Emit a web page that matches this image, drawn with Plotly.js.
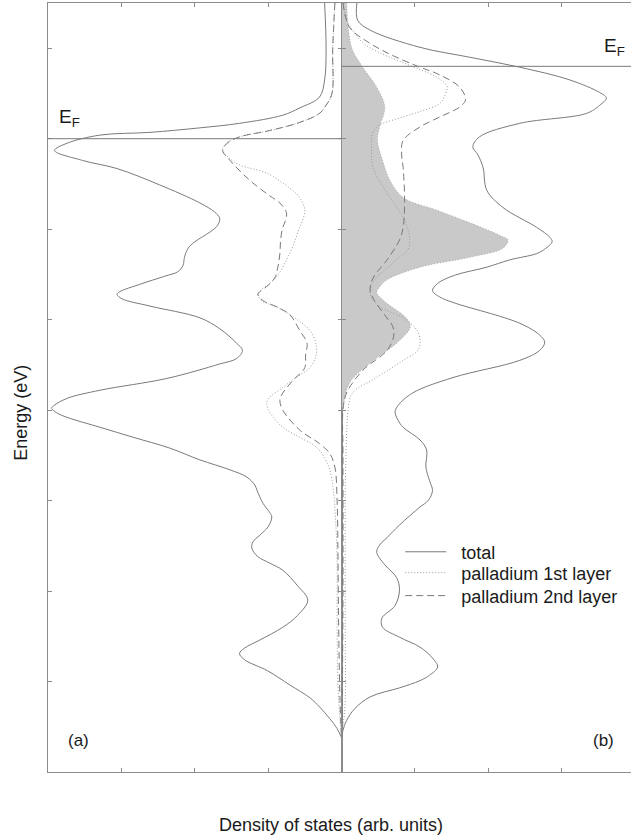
<!DOCTYPE html>
<html>
<head>
<meta charset="utf-8">
<script src="https://cdn.plot.ly/plotly-3.0.1.min.js"></script>
<style>
html,body{margin:0;padding:0;overflow:hidden;background:#fff;}
#chart{width:640px;height:840px;}
</style>
</head>
<body>
<div id="chart"></div>
<script>
// Energies relative to E_F of panel (a); ticks one unit apart
const EF_a = 0.0;
const EF_b = 0.80;

// Panel (a) total DOS
const totA_E = [1.50,0.98,0.65,0.46,0.34,0.26,0.17,0.12,0.07,0.04,-0.05,-0.13,-0.24,-0.33,-0.51,-0.71,-0.81,-0.88,-0.96,-1.03,-1.14,-1.21,-1.31,-1.40,-1.47,-1.52,-1.61,-1.69,-1.72,-1.77,-1.85,-1.98,-2.10,-2.26,-2.34,-2.43,-2.49,-2.65,-2.78,-2.87,-2.95,-2.98,-3.03,-3.08,-3.19,-3.30,-3.42,-3.55,-3.66,-3.74,-3.83,-3.89,-4.03,-4.13,-4.18,-4.29,-4.38,-4.46,-4.53,-4.62,-4.69,-4.77,-4.94,-5.10,-5.27,-5.40,-5.54,-5.63,-5.69,-5.76,-5.88,-6.04,-6.18,-6.28,-6.41,-6.52,-6.62];
const totA_D = [0.23,0.21,0.23,0.30,0.57,0.80,1.39,1.93,2.61,3.29,3.74,3.91,3.53,3.06,2.48,1.93,1.73,1.66,1.69,1.79,2.00,2.09,2.14,2.16,2.23,2.41,2.75,3.02,3.06,2.99,2.61,1.93,1.66,1.43,1.35,1.43,1.66,2.38,3.29,3.74,3.92,3.95,3.88,3.74,3.29,2.84,2.34,1.93,1.52,1.29,1.18,1.15,1.07,0.98,0.95,1.00,1.11,1.21,1.22,1.14,0.98,0.80,0.60,0.46,0.60,0.80,1.11,1.32,1.39,1.32,1.01,0.70,0.43,0.30,0.16,0.06,0.00];

// Panel (a) palladium 1st layer
const pd1A_E = [1.50,0.98,0.50,0.37,0.28,0.18,0.09,0.02,-0.05,-0.13,-0.20,-0.29,-0.38,-0.55,-0.65,-0.79,-0.90,-0.98,-1.18,-1.34,-1.51,-1.60,-1.68,-1.72,-1.79,-1.86,-1.98,-2.12,-2.30,-2.43,-2.53,-2.65,-2.75,-2.86,-2.92,-3.02,-3.19,-3.30,-3.41,-3.53,-3.66,-3.89,-4.22,-4.66,-5.32,-5.99,-6.43,-6.62];
const pd1A_D = [0.09,0.12,0.13,0.21,0.30,0.57,0.98,1.39,1.56,1.62,1.55,1.39,1.02,0.70,0.57,0.50,0.53,0.57,0.66,0.75,0.87,0.98,1.11,1.14,1.09,0.88,0.64,0.43,0.34,0.36,0.43,0.64,0.80,0.98,1.02,0.98,0.80,0.57,0.34,0.23,0.16,0.11,0.08,0.06,0.06,0.05,0.02,0.00];

// Panel (a) palladium 2nd layer
const pd2A_E = [1.50,0.98,0.50,0.37,0.28,0.18,0.09,0.02,-0.05,-0.13,-0.24,-0.46,-0.63,-0.71,-0.82,-0.92,-0.98,-1.12,-1.27,-1.43,-1.54,-1.62,-1.69,-1.72,-1.79,-1.86,-1.95,-2.12,-2.26,-2.39,-2.53,-2.67,-2.81,-2.89,-3.00,-3.22,-3.37,-3.48,-3.63,-4.00,-4.44,-5.32,-6.21,-6.62];
const pd2A_D = [0.09,0.12,0.13,0.21,0.30,0.57,0.98,1.39,1.56,1.62,1.52,1.25,0.98,0.84,0.75,0.77,0.80,0.83,0.84,0.87,0.91,1.00,1.11,1.14,1.07,0.88,0.70,0.57,0.47,0.49,0.50,0.66,0.80,0.84,0.80,0.57,0.30,0.16,0.09,0.06,0.05,0.04,0.02,0.00];

// Panel (b) total DOS
const totB_E = [1.50,1.31,1.20,1.01,0.90,0.79,0.65,0.51,0.45,0.37,0.28,0.17,0.02,-0.09,-0.18,-0.32,-0.57,-0.76,-0.98,-1.09,-1.14,-1.22,-1.27,-1.34,-1.42,-1.51,-1.60,-1.68,-1.75,-1.81,-2.04,-2.17,-2.25,-2.34,-2.45,-2.64,-2.81,-2.95,-3.02,-3.11,-3.19,-3.33,-3.44,-3.63,-3.78,-3.89,-4.00,-4.07,-4.27,-4.41,-4.49,-4.57,-4.71,-4.85,-4.99,-5.16,-5.30,-5.40,-5.51,-5.62,-5.74,-5.84,-5.93,-5.99,-6.07,-6.17,-6.30,-6.43,-6.54,-6.62];
const totB_D = [0.21,0.22,0.39,1.07,1.75,2.43,3.11,3.52,3.61,3.52,3.34,2.43,1.88,1.79,1.86,1.93,1.98,2.20,2.66,2.84,2.87,2.77,2.66,2.29,1.98,1.54,1.31,1.24,1.34,1.52,2.43,2.70,2.77,2.70,2.43,1.52,0.97,0.77,0.73,0.77,0.84,1.07,1.16,1.15,1.20,1.24,1.18,1.07,0.79,0.62,0.52,0.48,0.59,0.75,0.79,0.73,0.55,0.56,0.79,1.07,1.24,1.31,1.20,1.07,0.79,0.39,0.18,0.07,0.02,0.00];

// Panel (b) palladium 1st layer
const pd1B_E = [1.50,1.31,1.17,1.06,0.95,0.84,0.68,0.61,0.57,0.48,0.39,0.30,0.24,0.13,0.02,-0.05,-0.32,-0.60,-0.87,-1.12,-1.23,-1.31,-1.43,-1.56,-1.68,-1.76,-1.86,-1.98,-2.12,-2.23,-2.34,-2.45,-2.64,-2.81,-3.00,-3.26,-3.55,-3.92,-4.44,-5.32,-6.21,-6.43,-6.62];
const pd1B_D = [0.02,0.07,0.18,0.29,0.52,0.84,1.30,1.41,1.44,1.41,1.34,1.07,0.84,0.48,0.41,0.41,0.43,0.62,0.84,0.93,0.90,0.79,0.62,0.45,0.39,0.41,0.52,0.84,1.03,1.07,1.04,0.84,0.48,0.15,0.09,0.07,0.06,0.05,0.05,0.05,0.05,0.03,0.00];

// Panel (b) palladium 2nd layer
const pd2B_E = [1.50,1.23,1.09,0.95,0.79,0.72,0.57,0.43,0.35,0.24,0.13,-0.02,-0.18,-0.32,-0.68,-0.98,-1.12,-1.34,-1.54,-1.68,-1.79,-1.95,-2.08,-2.19,-2.34,-2.56,-2.81,-3.00,-3.44,-5.10,-6.21,-6.62];
const pd2B_D = [0.02,0.11,0.32,0.62,1.07,1.30,1.61,1.69,1.61,1.34,1.07,0.84,0.82,0.84,0.86,0.84,0.79,0.62,0.43,0.39,0.45,0.59,0.70,0.71,0.62,0.29,0.07,0.02,0.02,0.02,0.01,0.00];

// Panel (b) shaded partial DOS
const shadeB_E = [1.50,1.17,0.98,0.79,0.57,0.35,0.13,-0.02,-0.24,-0.46,-0.65,-0.79,-0.93,-1.07,-1.12,-1.21,-1.31,-1.42,-1.56,-1.64,-1.70,-1.82,-1.95,-2.04,-2.10,-2.26,-2.48,-2.70,-2.97,-3.03];
const shadeB_D = [0.07,0.10,0.15,0.29,0.48,0.59,0.52,0.49,0.56,0.66,0.84,1.30,1.75,2.16,2.27,2.20,1.75,1.07,0.62,0.52,0.48,0.62,0.84,0.93,0.93,0.75,0.39,0.11,0.02,0.00];

const seriesNames = ["total", "palladium 1st layer", "palladium 2nd layer"];
const xTicks = [1, 2, 3];
const yTicks = [-6, -5, -4, -3, -2, -1, 0, 1];

const cTot = "#7a7a7a", cP1 = "#9a9a9a", cP2 = "#787878", axC = "#8c8c8c";
const dotDash = "1px,2px", dashDash = "7px,4px";
const gap = "\u00a0\u00a0";

const traces = [
  {x: shadeB_D, y: shadeB_E, xaxis: "x2", yaxis: "y2", mode: "lines", fill: "tozerox",
   fillcolor: "#c9c9c9", line: {color: "#a0a0a0", width: 0.8, shape: "spline", dash: dotDash}, showlegend: false, hoverinfo: "skip"},
  {x: totA_D, y: totA_E, xaxis: "x", yaxis: "y", mode: "lines", line: {color: cTot, width: 1, shape: "spline"}, showlegend: false},
  {x: pd1A_D, y: pd1A_E, xaxis: "x", yaxis: "y", mode: "lines", line: {color: cP1, width: 1, shape: "spline", dash: dotDash}, showlegend: false},
  {x: pd2A_D, y: pd2A_E, xaxis: "x", yaxis: "y", mode: "lines", line: {color: cP2, width: 1, shape: "spline", dash: dashDash}, showlegend: false},
  {x: totB_D, y: totB_E, xaxis: "x2", yaxis: "y2", mode: "lines", name: gap + seriesNames[0], legend: "legend", line: {color: cTot, width: 1, shape: "spline"}},
  {x: pd1B_D, y: pd1B_E, xaxis: "x2", yaxis: "y2", mode: "lines", name: gap + seriesNames[1], legend: "legend2", line: {color: cP1, width: 1, shape: "spline", dash: dotDash}},
  {x: pd2B_D, y: pd2B_E, xaxis: "x2", yaxis: "y2", mode: "lines", name: gap + seriesNames[2], legend: "legend3", line: {color: cP2, width: 1, shape: "spline", dash: dashDash}}
];

const axBase = {showgrid: false, zeroline: false, showline: true, linecolor: axC, linewidth: 1,
  ticks: "inside", ticklen: 4, tickcolor: axC, showticklabels: false, mirror: "ticks"};

const font = "Liberation Sans, Arial, Helvetica, sans-serif";
const legBase = {x: 0.6, xanchor: "left", yanchor: "middle", bgcolor: "rgba(0,0,0,0)",
  font: {family: font, size: 18, color: "#1a1a1a"}, itemwidth: 41};

const layout = {
  width: 640, height: 840,
  margin: {l: 48, r: 5, t: 3, b: 68},
  paper_bgcolor: "#fff", plot_bgcolor: "#fff",
  font: {family: font, color: "#1a1a1a", size: 18},
  xaxis: Object.assign({}, axBase, {domain: [0, 0.5], range: [4, 0], tickvals: xTicks, anchor: "y"}),
  xaxis2: Object.assign({}, axBase, {domain: [0.5, 1], range: [0, 4], tickvals: xTicks, anchor: "y2"}),
  yaxis: Object.assign({}, axBase, {range: [-7, 1.5], tickvals: yTicks, anchor: "x"}),
  yaxis2: Object.assign({}, axBase, {range: [-7, 1.5], tickvals: yTicks, anchor: "x2", matches: "y"}),
  showlegend: true,
  legend: Object.assign({}, legBase, {y: 0.286}),
  legend2: Object.assign({}, legBase, {y: 0.2588}),
  legend3: Object.assign({}, legBase, {y: 0.229}),
  shapes: [
    {type: "line", xref: "x domain", yref: "y", x0: 0, x1: 1, y0: EF_a, y1: EF_a, line: {color: "#7a7a7a", width: 1}},
    {type: "line", xref: "x2 domain", yref: "y2", x0: 0, x1: 1, y0: EF_b, y1: EF_b, line: {color: "#7a7a7a", width: 1}}
  ],
  annotations: [
    {text: "E<sub>F</sub>", xref: "x", yref: "y", x: 3.88, y: EF_a + 0.07, xanchor: "left", yanchor: "bottom", showarrow: false, font: {size: 19}},
    {text: "E<sub>F</sub>", xref: "x2", yref: "y2", x: 3.55, y: EF_b + 0.06, xanchor: "left", yanchor: "bottom", showarrow: false, font: {size: 19}},
    {text: "(a)", xref: "x", yref: "y", x: 3.59, y: -6.65, xanchor: "center", yanchor: "middle", showarrow: false, font: {size: 17}},
    {text: "(b)", xref: "x2", yref: "y2", x: 3.57, y: -6.65, xanchor: "center", yanchor: "middle", showarrow: false, font: {size: 17}},
    {text: "Energy (eV)", xref: "paper", yref: "y", x: -0.046, y: -3.03, xanchor: "center", yanchor: "middle", textangle: -90, showarrow: false, font: {size: 18}},
    {text: "Density of states (arb. units)", xref: "paper", yref: "paper", x: 0.482, y: -0.069, xanchor: "center", yanchor: "middle", showarrow: false, font: {size: 18}}
  ]
};

Plotly.newPlot("chart", traces, layout, {displayModeBar: false, staticPlot: true});
</script>
</body>
</html>
